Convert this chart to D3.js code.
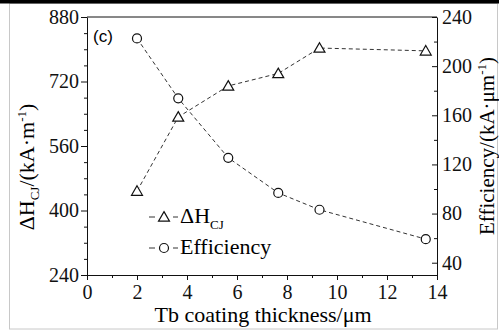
<!DOCTYPE html>
<html>
<head>
<meta charset="utf-8">
<script src="https://cdn.jsdelivr.net/npm/d3@7"></script>
<style>
    body { margin: 0; background: #fff; }
    svg { display: block; }
</style>
</head>
<body>
<script>
(function() {

    // data
    var thickness = [2, 3.65, 5.65, 7.65, 9.3, 13.55];
    var deltaH = [448, 632, 709, 740, 803, 796];
    var efficiency = [222.6, 173.8, 125.4, 96.8, 83.1, 59.2];

    var xTicks = [0, 2, 4, 6, 8, 10, 12, 14];
    var leftTicks = [240, 400, 560, 720, 880];
    var rightTicks = [40, 80, 120, 160, 200, 240];

    var width = 499, height = 334;
    var serif = '"Liberation Serif", "Times New Roman", serif';

    var svg = d3.select("body").append("svg")
        .attr("width", width)
        .attr("height", height);

    // frame and top rule
    svg.append("rect")
        .attr("x", 9.5).attr("y", 3.5)
        .attr("width", 488).attr("height", 325.5)
        .attr("fill", "none").attr("stroke", "#c8c8c8");
    svg.append("rect")
        .attr("x", 0).attr("y", 0)
        .attr("width", width).attr("height", 3.5)
        .attr("fill", "#000");

    // scales
    var x = d3.scaleLinear().domain([0, 14]).range([87, 437]);
    var yL = d3.scaleLinear().domain([240, 880]).range([275, 17]);
    var yR = d3.scaleLinear().domain([30, 240]).range([275, 17]);

    // top border of plot box
    svg.append("line")
        .attr("x1", x(0)).attr("x2", x(14))
        .attr("y1", yL(880)).attr("y2", yL(880))
        .attr("stroke", "#111");

    function styleAxis(g) {
        g.selectAll("line").attr("stroke", "#111");
        g.selectAll("path").attr("stroke", "#111");
        g.selectAll("text")
            .style("font-family", serif)
            .style("font-size", "20px")
            .attr("fill", "#111");
    }

    // minor ticks
    var xMinor = d3.range(1, 14, 2);
    svg.append("g")
        .attr("transform", "translate(0," + yL(240) + ")")
        .call(d3.axisBottom(x).tickValues(xMinor).tickSize(3).tickFormat(""))
        .call(styleAxis)
        .select(".domain").remove();

    var lMinor = d3.range(280, 880, 40).filter(function(d) { return leftTicks.indexOf(d) < 0; });
    svg.append("g")
        .attr("transform", "translate(" + x(0) + ",0)")
        .call(d3.axisLeft(yL).tickValues(lMinor).tickSize(3).tickFormat(""))
        .call(styleAxis)
        .select(".domain").remove();

    var rMinor = d3.range(60, 240, 40);
    svg.append("g")
        .attr("transform", "translate(" + x(14) + ",0)")
        .call(d3.axisRight(yR).tickValues(rMinor).tickSize(-3).tickFormat(""))
        .call(styleAxis)
        .select(".domain").remove();

    // major axes
    svg.append("g")
        .attr("transform", "translate(0," + yL(240) + ")")
        .call(d3.axisBottom(x).tickValues(xTicks).tickSize(5).tickSizeOuter(0).tickPadding(5))
        .call(styleAxis);

    svg.append("g")
        .attr("transform", "translate(" + x(0) + ",0)")
        .call(d3.axisLeft(yL).tickValues(leftTicks).tickSize(6).tickSizeOuter(0).tickPadding(2))
        .call(styleAxis);

    svg.append("g")
        .attr("transform", "translate(" + x(14) + ",0)")
        .call(d3.axisRight(yR).tickValues(rightTicks).tickSize(-5).tickSizeOuter(0).tickPadding(5))
        .call(styleAxis);

    // axis titles
    svg.append("text")
        .attr("x", 263).attr("y", 322)
        .attr("text-anchor", "middle")
        .style("font-family", serif).style("font-size", "22px")
        .text("Tb coating thickness/μm");

    var lt = svg.append("text")
        .attr("transform", "translate(34,167) rotate(-90)")
        .attr("text-anchor", "middle")
        .style("font-family", serif).style("font-size", "22px");
    lt.append("tspan").text("ΔH");
    lt.append("tspan").attr("dy", 5).style("font-size", "13px").text("CJ");
    lt.append("tspan").attr("dy", -5).text("/(kA·m");
    lt.append("tspan").attr("dy", -8).style("font-size", "13px").text("-1");
    lt.append("tspan").attr("dy", 8).text(")");

    var rt = svg.append("text")
        .attr("transform", "translate(494,146) rotate(-90)")
        .attr("text-anchor", "middle")
        .style("font-family", serif).style("font-size", "21px");
    rt.append("tspan").text("Efficiency/(kA·μm");
    rt.append("tspan").attr("dy", -8).style("font-size", "13px").text("-1");
    rt.append("tspan").attr("dy", 8).text(")");

    svg.append("text")
        .attr("x", 93).attr("y", 42)
        .style("font-family", '"Liberation Sans", Arial, sans-serif')
        .style("font-size", "17px")
        .text("(c)");

    // series
    var triangle = d3.symbol().type(d3.symbolTriangle).size(52);

    var lineL = d3.line()
        .x(function(d, i) { return x(thickness[i]); })
        .y(function(d) { return yL(d); });
    var lineR = d3.line()
        .x(function(d, i) { return x(thickness[i]); })
        .y(function(d) { return yR(d); });

    svg.append("path")
        .datum(deltaH)
        .attr("d", lineL)
        .attr("fill", "none").attr("stroke", "#333")
        .attr("stroke-width", 1).attr("stroke-dasharray", "4,3");

    svg.append("path")
        .datum(efficiency)
        .attr("d", lineR)
        .attr("fill", "none").attr("stroke", "#333")
        .attr("stroke-width", 1).attr("stroke-dasharray", "4,3");

    svg.selectAll(".tri")
        .data(deltaH)
        .enter()
        .append("path")
        .attr("class", "tri")
        .attr("d", triangle)
        .attr("transform", function(d, i) {
            return "translate(" + x(thickness[i]) + "," + (yL(d) + 1) + ")";
        })
        .attr("fill", "#fff").attr("stroke", "#111").attr("stroke-width", 1.2);

    svg.selectAll(".circ")
        .data(efficiency)
        .enter()
        .append("circle")
        .attr("class", "circ")
        .attr("cx", function(d, i) { return x(thickness[i]); })
        .attr("cy", function(d) { return yR(d); })
        .attr("r", 4.5)
        .attr("fill", "#fff").attr("stroke", "#111").attr("stroke-width", 1.2);

    // legend
    var legend = svg.append("g");
    var rows = [{y: 217}, {y: 248}];
    rows.forEach(function(r, i) {
        legend.append("line")
            .attr("x1", 149).attr("x2", 155).attr("y1", r.y).attr("y2", r.y)
            .attr("stroke", "#333");
        legend.append("line")
            .attr("x1", 173).attr("x2", 178).attr("y1", r.y).attr("y2", r.y)
            .attr("stroke", "#333");
        if (i == 0) {
            legend.append("path")
                .attr("d", triangle)
                .attr("transform", "translate(164," + (r.y + 1) + ")")
                .attr("fill", "#fff").attr("stroke", "#111").attr("stroke-width", 1.2);
        } else {
            legend.append("circle")
                .attr("cx", 164).attr("cy", r.y).attr("r", 4.5)
                .attr("fill", "#fff").attr("stroke", "#111").attr("stroke-width", 1.2);
        }
    });

    var l1 = legend.append("text")
        .attr("x", 180).attr("y", 223)
        .style("font-family", serif).style("font-size", "22px");
    l1.append("tspan").text("ΔH");
    l1.append("tspan").attr("dy", 6).style("font-size", "13px").text("CJ");

    legend.append("text")
        .attr("x", 180).attr("y", 254)
        .style("font-family", serif).style("font-size", "22px")
        .text("Efficiency");

})();
</script>
</body>
</html>
